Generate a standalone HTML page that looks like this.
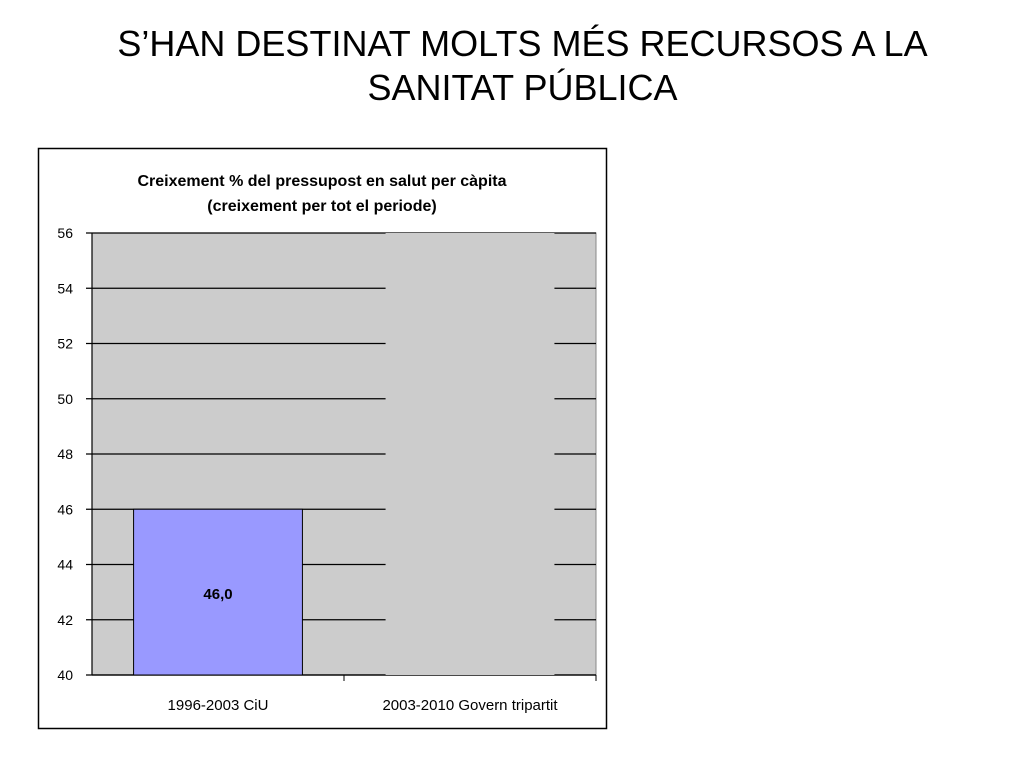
<!DOCTYPE html>
<html><head><meta charset="utf-8"><style>
body{margin:0;width:1024px;height:768px;background:#fff;font-family:"Liberation Sans",sans-serif;overflow:hidden}
#title{position:absolute;left:0;width:1045px;top:22px;text-align:center;font-size:36px;line-height:44px;color:#000}
</style></head><body>
<div id="title">S’HAN DESTINAT MOLTS MÉS RECURSOS A LA<br>SANITAT PÚBLICA</div>
<svg id="chart" width="1024" height="768" style="position:absolute;left:0;top:0">
<rect x="38.5" y="148.5" width="568" height="580" fill="#fff" stroke="#000" stroke-width="1.5"/>
<text x="322" y="186" text-anchor="middle" font-size="16" font-weight="bold">Creixement % del pressupost en salut per càpita</text>
<text x="322" y="211" text-anchor="middle" font-size="16" font-weight="bold">(creixement per tot el periode)</text>
<g id="plot"></g>
</svg>
<script>
const categories=["1996-2003 CiU","2003-2010 Govern tripartit"];
const values=[46.0,60];
const valueLabels=["46,0",""];
const yTicks=[40,42,44,46,48,50,52,54,56];
const X0=92,X1=596,Y0=675,Y1=233,yMin=40,yMax=56;
const y=v=>Y0-(Math.min(v,yMax)-yMin)/(yMax-yMin)*(Y0-Y1);
const bw=(X1-X0)/categories.length;
const xc=i=>X0+bw*(i+0.5);
const NS="http://www.w3.org/2000/svg";
const g=document.getElementById('plot');
function mk(t,a){const e=document.createElementNS(NS,t);for(const k in a)e.setAttribute(k,a[k]);g.appendChild(e);return e;}
let e=mk('rect',{x:X0,y:Y1,width:X1-X0,height:Y0-Y1,fill:'#cccccc',stroke:'#888','stroke-width':1});


yTicks.forEach(t=>{
 let l=mk('line',{x1:X0-6,x2:X1,y1:y(t),y2:y(t),stroke:'#000','stroke-width':1.2});
 
 
 let tx=mk('text',{x:X0-19,y:y(t)+5,'text-anchor':'end','font-size':14});
 tx.textContent=t;
 
 
});
mk('line',{x1:X0,x2:X0,y1:Y1,y2:Y0,stroke:'#000','stroke-width':1.2});
mk('line',{x1:X0,x2:X1,y1:Y0,y2:Y0,stroke:'#000','stroke-width':1.2});
categories.forEach((c,i)=>{
 const w=bw*0.67, top=y(values[i]);
 const b=mk('rect',{x:xc(i)-w/2,y:top,width:w,height:Y0-top,fill:i==0?'#9999ff':'#cccccc',stroke:i==0?'#000':'none','stroke-width':1});
 
 
 if(valueLabels[i]){const v=mk('text',{x:xc(i),y:(top+Y0)/2+7,'text-anchor':'middle','font-size':15,'font-weight':'bold'});v.textContent=valueLabels[i];
 
 }
 let t=mk('line',{x1:X0+bw*(i+1),x2:X0+bw*(i+1),y1:Y0,y2:Y0+6,stroke:'#000'});
 const tx=mk('text',{x:xc(i),y:710,'text-anchor':'middle','font-size':15});
 tx.textContent=c;
 
 
});
</script>
</body></html>
